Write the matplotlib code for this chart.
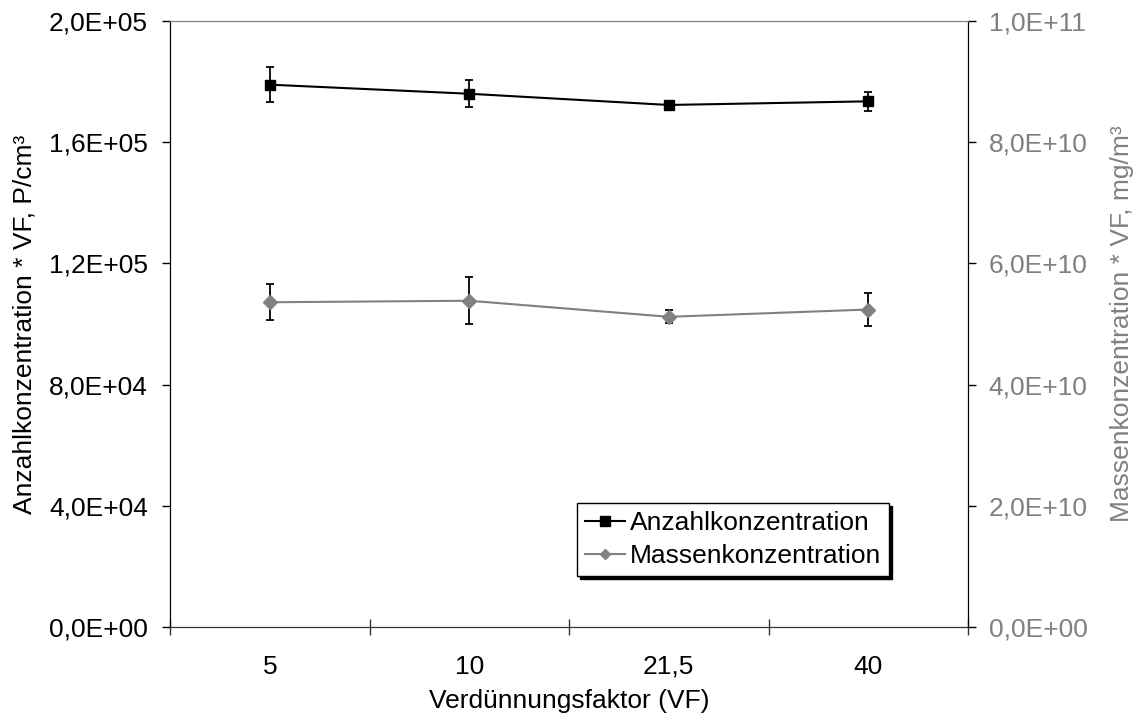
import matplotlib
matplotlib.use("Agg")
import matplotlib.pyplot as plt
from matplotlib.ticker import FixedLocator, FuncFormatter
from matplotlib.lines import Line2D

plt.rcParams['font.family'] = ['Liberation Sans', 'DejaVu Sans']

categories = ["5", "10", "21,5", "40"]
anzahl = [179000, 176000, 172300, 173500]
anzahl_err = [5700, 4500, 1000, 3100]
masse = [5.36e10, 5.385e10, 5.12e10, 5.24e10]
masse_err = [3.0e9, 3.9e9, 1.1e9, 2.8e9]

FS = 19
gray = '#808080'

fig = plt.figure(figsize=(11.34, 7.25), dpi=100)
ax = fig.add_axes([0.150, 0.135, 0.7036, 0.836])
ax2 = ax.twinx()

x = list(range(1, len(categories) + 1))

ax.errorbar(x, anzahl, yerr=anzahl_err, color='black', marker='s', markersize=7.5,
            linewidth=1.5, ecolor='black', elinewidth=1.3, capsize=3, capthick=1.3,
            label='Anzahlkonzentration', zorder=3)
ax2.errorbar(x, masse, yerr=masse_err, color=gray, marker='D', markersize=7,
             linewidth=1.5, ecolor='black', elinewidth=1.3, capsize=3, capthick=1.3,
             label='Massenkonzentration', zorder=3)

ax.set_xlim(0.5, len(categories) + 0.5)
ax.set_ylim(0, 2.0e5)
ax2.set_ylim(0, 1.0e11)

def sci_de(v, pos):
    if v == 0:
        return "0,0E+00"
    s = f"{v:.1E}"
    return s.replace('.', ',')

ax.yaxis.set_major_locator(FixedLocator([0, 4e4, 8e4, 1.2e5, 1.6e5, 2.0e5]))
ax.yaxis.set_major_formatter(FuncFormatter(sci_de))
ax2.yaxis.set_major_locator(FixedLocator([0, 2e10, 4e10, 6e10, 8e10, 1e11]))
ax2.yaxis.set_major_formatter(FuncFormatter(sci_de))

ax.xaxis.set_major_locator(FixedLocator([i + 0.5 for i in range(0, len(categories) + 1)]))
ax.xaxis.set_major_formatter(FuncFormatter(lambda v, p: ""))
ax.xaxis.set_minor_locator(FixedLocator(x))
ax.xaxis.set_minor_formatter(FuncFormatter(lambda v, p: categories[int(round(v)) - 1]))
ax.tick_params(axis='x', which='major', direction='inout', length=11, width=1, color='#333333')
ax.tick_params(axis='x', which='minor', length=0, pad=20, labelsize=FS)

ax.tick_params(axis='y', direction='out', length=6, width=1, pad=10, labelsize=FS)
ax2.tick_params(axis='y', direction='out', length=6, width=1, pad=9, labelsize=FS,
                labelcolor=gray, color='black')

for a in (ax, ax2):
    a.spines['top'].set_color(gray)
    a.spines['left'].set_color('black')
    a.spines['right'].set_color('black')
    a.spines['bottom'].set_color('#333333')

ax.set_xlabel("Verdünnungsfaktor (VF)", fontsize=FS, labelpad=7)
ax.set_ylabel("Anzahlkonzentration * VF, P/cm³", fontsize=FS, labelpad=9)
ax2.set_ylabel("Massenkonzentration * VF, mg/m³", fontsize=FS, labelpad=16, color=gray)

h1, l1 = ax.get_legend_handles_labels()
h2, l2 = ax2.get_legend_handles_labels()
hh = [Line2D([], [], color='black', marker='s', markersize=6.5, linewidth=1.5),
      Line2D([], [], color=gray, marker='D', markersize=5.5, linewidth=1.5)]
leg = ax2.legend(hh, l1 + l2, loc='lower right', bbox_to_anchor=(0.901, 0.084),
                 fontsize=FS, frameon=True, fancybox=False, framealpha=1,
                 edgecolor='black', borderaxespad=0, borderpad=0.3,
                 labelspacing=0.35, handlelength=1.5, handletextpad=0.2,
                 shadow={'color': 'black', 'alpha': 1})
leg.get_frame().set_linewidth(1)

fig.savefig("out.png", dpi=100)
